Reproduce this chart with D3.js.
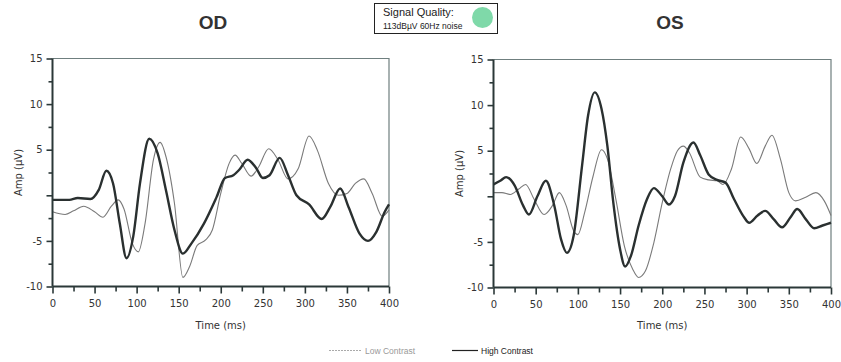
<!DOCTYPE html>
<html><head><meta charset="utf-8">
<script src="https://cdn.jsdelivr.net/npm/d3@7"></script>
<style>body{margin:0;background:#fff;}svg{display:block;}</style>
</head><body>
<svg id="c" width="841" height="362"></svg>
<script>
// ---- data ----
const panelTitles = ["OD", "OS"];
const xTicks = [0, 50, 100, 150, 200, 250, 300, 350, 400];
const xMinorTicks = [25, 75, 125, 175, 225, 275, 325, 375];
const yTicks = [15, 10, 5, 0, -5, -10];
const yTickLabels = ["15", "10", "5", "", "-5", "-10"];
const yMinorTicks = [12.5, 7.5, 2.5, -2.5, -7.5];
const legendLabels = ["Low Contrast", "High Contrast"];
const signalQuality = ["Signal Quality:", "113dBµV 60Hz noise"];

// [time ms, amplitude µV]
const odHigh = [[0,-0.5],[20,-0.5],[30,-0.3],[45,-0.4],[55,0.6],[64,2.7],[72,1.3],[80,-3.1],[88,-6.9],[96,-4.5],[104,1.3],[115,6.2],[125,4.6],[135,0.5],[145,-3.8],[155,-6.4],[165,-5.3],[180,-3.1],[195,-0.2],[205,1.9],[215,2.2],[222,2.8],[232,3.9],[242,3.0],[250,1.9],[258,2.2],[270,4.1],[280,2.2],[290,0],[305,-1.0],[320,-2.6],[330,-1.3],[342,0.75],[352,-1.3],[365,-4.2],[375,-5.0],[385,-4.0],[395,-1.8],[400,-1.0]];
const odLow = [[0,-1.8],[15,-2.1],[25,-1.7],[37,-1.2],[50,-1.8],[60,-2.4],[70,-1.2],[78,-0.5],[85,-1.5],[95,-5.3],[102,-6.2],[110,-3.1],[120,3.9],[128,5.8],[135,4.2],[145,-0.9],[155,-9.0],[163,-7.8],[172,-5.5],[182,-4.9],[190,-3.8],[200,0.2],[210,3.5],[217,4.4],[225,3.5],[236,2.1],[245,3.1],[257,5.1],[268,3.9],[280,1.8],[292,2.9],[305,6.5],[315,4.9],[328,1.3],[340,0],[350,0.2],[360,1.3],[370,1.8],[380,0.2],[392,-2.3],[400,-1.6]];
const osHigh = [[0,1.3],[8,1.7],[15,2.1],[25,1.2],[35,-1.0],[42,-2.0],[52,0],[62,1.7],[72,-1.0],[80,-4.7],[87,-6.2],[95,-4.3],[105,3.4],[112,8.8],[120,11.4],[128,9.6],[135,5.5],[142,-0.7],[150,-5.8],[156,-7.7],[163,-6.5],[172,-3.2],[182,-0.3],[190,0.9],[200,0],[208,-0.9],[215,0],[225,3.7],[237,5.9],[245,4.5],[255,2.4],[265,1.8],[275,1.5],[285,-0.3],[297,-2.3],[303,-2.9],[313,-2.1],[322,-1.6],[332,-2.5],[342,-3.4],[352,-2.3],[360,-1.4],[370,-2.5],[380,-3.5],[390,-3.2],[400,-2.9]];
const osLow = [[0,0.4],[10,0.4],[20,0.2],[30,0.8],[38,1.3],[48,-0.3],[60,-2.0],[70,-1.0],[78,0.4],[86,-1.0],[95,-3.8],[100,-4.2],[108,-1.8],[118,2.2],[128,5.1],[135,4.1],[145,-0.3],[155,-5.4],[165,-8.0],[172,-8.9],[180,-8.2],[190,-5.1],[200,-0.7],[210,3.0],[218,5.0],[225,5.5],[232,4.8],[245,2.1],[255,1.8],[265,1.7],[272,1.3],[282,3.0],[293,6.5],[303,5.2],[312,3.6],[322,5.5],[330,6.7],[340,4.1],[350,0.4],[358,-0.5],[370,-0.1],[382,0.4],[392,-0.5],[400,-2.1]];

const panelData = [[odLow, odHigh], [osLow, osHigh]];

// ---- layout ----
const svg = d3.select("#c");
const panels = [
  {x0: 52.5, x1: 389, y0: 58.5, y1: 286.5, titleX: 213, ampX: 18},
  {x0: 493.5, x1: 831, y0: 59.5, y1: 287.5, titleX: 670, ampX: 459}
];
const axisColor = "#2b3838";
const tickFont = "DejaVu Sans";

panels.forEach((p, i) => {
  const x = d3.scaleLinear().domain([0, 400]).range([p.x0, p.x1]);
  const y = d3.scaleLinear().domain([-10, 15]).range([p.y1, p.y0]);
  const g = svg.append("g");

  // title
  svg.append("text").attr("x", p.titleX).attr("y", 29).attr("text-anchor", "middle")
    .attr("font-family", "Liberation Sans, Arial").attr("font-weight", "bold")
    .attr("font-size", 19).attr("fill", "#333").text(panelTitles[i]);

  // frame (top/right)
  g.append("path").attr("d", `M${p.x0},${p.y0}H${p.x1}V${p.y1}`)
    .attr("fill", "none").attr("stroke", "#6f7f7f").attr("stroke-width", 1.2);

  // lines
  const line = d3.line().x(d => x(d[0])).y(d => y(d[1])).curve(d3.curveMonotoneX);
  const [low, high] = panelData[i];
  g.append("path").datum(low).attr("d", line).attr("fill", "none")
    .attr("stroke", "#7a7a7a").attr("stroke-width", 1.1);
  g.append("path").datum(high).attr("d", line).attr("fill", "none")
    .attr("stroke", "#2a3030").attr("stroke-width", 2.4);

  // x axis
  const xa = g.append("g").attr("transform", `translate(0,${p.y1})`)
    .call(d3.axisBottom(x).tickValues(xTicks).tickSize(7).tickPadding(6).tickFormat(d3.format("d")));
  const xm = g.append("g").attr("transform", `translate(0,${p.y1})`)
    .call(d3.axisBottom(x).tickValues(xMinorTicks).tickSize(5).tickFormat(""));
  xm.select(".domain").remove();
  // y axis
  const ya = g.append("g").attr("transform", `translate(${p.x0},0)`)
    .call(d3.axisLeft(y).tickValues(yTicks).tickSize(6).tickPadding(4)
      .tickFormat((d, k) => yTickLabels[k]));
  const ym = g.append("g").attr("transform", `translate(${p.x0},0)`)
    .call(d3.axisLeft(y).tickValues(yMinorTicks).tickSize(4).tickFormat(""));
  ym.select(".domain").remove();

  [xa, xm, ya, ym].forEach(a => {
    a.selectAll(".domain").attr("stroke", axisColor).attr("stroke-width", 2);
    a.selectAll(".tick line").attr("stroke", axisColor).attr("stroke-width", 1.6);
    a.selectAll("text").attr("font-family", tickFont).attr("font-size", 10).attr("fill", "#333");
  });
  xa.select(".domain").attr("d", `M${p.x0},0H${p.x1}`);
  ya.select(".domain").attr("d", `M0,${p.y1}V${p.y0}`);

  // axis titles
  svg.append("text").attr("x", (p.x0 + p.x1) / 2).attr("y", 329).attr("text-anchor", "middle")
    .attr("font-family", tickFont).attr("font-size", 10).attr("fill", "#333").text("Time (ms)");
  svg.append("text").attr("transform", `translate(${p.ampX + 4},${(p.y0 + p.y1) / 2}) rotate(-90)`)
    .attr("text-anchor", "middle").attr("font-family", tickFont).attr("font-size", 10)
    .attr("fill", "#333").text("Amp (µV)");
});

// signal quality box
svg.append("rect").attr("x", 374.5).attr("y", 3.5).attr("width", 123).attr("height", 30)
  .attr("fill", "#fff").attr("stroke", "#222").attr("stroke-width", 1);
svg.append("text").attr("x", 383).attr("y", 16).attr("font-family", "Liberation Sans, Arial")
  .attr("font-size", 11).attr("fill", "#222").text(signalQuality[0]);
svg.append("text").attr("x", 383).attr("y", 29).attr("font-family", "Liberation Sans, Arial")
  .attr("font-size", 8.5).attr("fill", "#222").text(signalQuality[1]);
svg.append("circle").attr("cx", 482.5).attr("cy", 17.5).attr("r", 10.5).attr("fill", "#7fd9a9");

// legend
const lg = svg.append("g").attr("font-family", "Liberation Sans, Arial").attr("font-size", 8.5);
lg.append("line").attr("x1", 329).attr("x2", 362).attr("y1", 350.5).attr("y2", 350.5)
  .attr("stroke", "#aaa").attr("stroke-width", 1).attr("stroke-dasharray", "2,1");
lg.append("text").attr("x", 365).attr("y", 353.5).attr("fill", "#999").text(legendLabels[0]);
lg.append("line").attr("x1", 452).attr("x2", 478).attr("y1", 350.5).attr("y2", 350.5)
  .attr("stroke", "#222").attr("stroke-width", 1.2);
lg.append("text").attr("x", 481).attr("y", 353.5).attr("fill", "#222").text(legendLabels[1]);
</script>
</body></html>
